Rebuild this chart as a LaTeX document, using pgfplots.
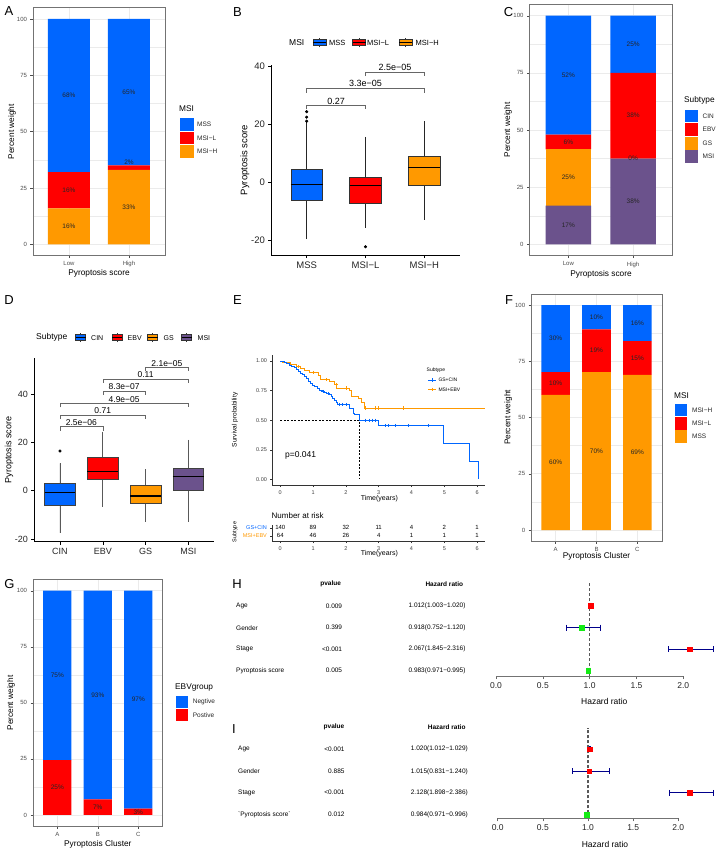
\documentclass[border=0pt]{standalone}
\usepackage{fontspec}
\setmainfont{Liberation Sans}
\usepackage{pgfplots}
\pgfplotsset{compat=1.18}
\usepgfplotslibrary{statistics}
\definecolor{cblue}{RGB}{0,102,255}
\definecolor{cred}{RGB}{255,0,0}
\definecolor{corange}{RGB}{255,153,0}
\definecolor{cpurple}{RGB}{107,82,140}
\definecolor{cgreen}{RGB}{20,235,20}
\definecolor{cdblue}{RGB}{0,0,139}
\definecolor{gridc}{RGB}{235,235,235}
\newcommand{\fs}[1]{\fontsize{#1}{#1}\selectfont}
\tikzset{lab/.style={font=\fs{6.5}, text=black!85, inner sep=0pt}}
\pgfplotsset{
  every axis/.append style={/pgf/number format/assume math mode=true},
  ggbw/.style={scale only axis, anchor=south west, ymin=-5, ymax=105,
    ytick={0,25,50,75,100}, minor ytick={12.5,37.5,62.5,87.5},
    xmajorgrids, ymajorgrids, yminorgrids,
    major grid style={gridc, line width=0.55pt}, minor grid style={gridc, line width=0.3pt},
    axis line style={black!55, line width=0.5pt},
    tick align=outside, major tick length=2.5pt, minor tick length=0pt,
    tick style={black!70, line width=0.4pt}, xtick pos=bottom, ytick pos=left,
    tick label style={font=\fs{6}, text=black!70},
    ybar stacked, bar width=0.7},
  lbl/.style={scale only axis, anchor=south west, hide axis, ymin=-5, ymax=105, clip=false},
  bx/.style={scale only axis, anchor=south west, axis x line*=bottom, axis y line*=left,
    tick align=outside, major tick length=3pt, tick style={black, line width=0.5pt},
    axis line style={black, line width=0.6pt}, clip=false,
    boxplot/draw direction=y,
    boxplot/whisker extend=0,
    boxplot/every median/.style={black, line width=1.2pt}},
  forest/.style={scale only axis, anchor=south west, xmin=0, xmax=2,
    axis x line*=bottom, axis y line=none, ytick=\empty,
    xtick={0,0.5,1,1.5,2}, xticklabels={0.0,0.5,1.0,1.5,2.0},
    tick align=outside, major tick length=3pt, tick style={black!60, line width=0.6pt},
    axis line style={black!55, line width=0.7pt},
    xticklabel style={font=\fs{8.5}, text=black!85}, clip=false},
  pct/.style={draw=none, nodes near coords={\pgfplotspointmeta\%}, point meta=explicit symbolic,
    nodes near coords align={center},
    every node near coord/.append style={font=\fs{6.5}, text=black!85, inner sep=0pt}},
}
\newcommand{\bkey}[4]{\begin{scope}[shift={(#1pt,-#2pt)}]
 \draw[black!80,line width=0.5pt] (0,-4.5pt) -- (0,4.5pt);
 \filldraw[fill=#3, draw=black!80, line width=0.5pt] (-#4pt,-3pt) rectangle (#4pt,3pt);
 \draw[black, line width=0.8pt] (-#4pt,0) -- (#4pt,0);
\end{scope}}
\begin{document}
\begin{tikzpicture}
\path[use as bounding box] (0,0) rectangle (720pt,-854pt);
\fill[white] (0,0) rectangle (720pt,-854pt);

% ---------------- Panel A ----------------
\begin{axis}[ggbw, at={(33pt,-255.6pt)}, width=132pt, height=247.9pt,
  xmin=0.4, xmax=2.6, xtick={1,2}, xticklabels={Low,High}]
\addplot[fill=corange, draw=none] coordinates {(1,16) (2,33)};
\addplot[fill=cred, draw=none] coordinates {(1,16) (2,2)};
\addplot[fill=cblue, draw=none] coordinates {(1,68) (2,65)};
\end{axis}
\begin{axis}[lbl, at={(33pt,-255.6pt)}, width=132pt, height=247.9pt, xmin=0.4, xmax=2.6]
\addplot[pct] table[row sep=\\, meta=l] {x y l\\ 1 8 16\\ 1 24 16\\ 1 66 68\\ 2 16.5 33\\ 2 36.5 2\\ 2 67.5 65\\};
\end{axis}
\node[font=\fs{8.3}] at (99pt,-273.3pt) {Pyroptosis score};
\node[font=\fs{8.3}, rotate=90] at (12pt,-131.7pt) {Percent weight};
\node[font=\fs{8.3}, anchor=west, inner sep=0pt] at (179pt,-109pt) {MSI};
\fill[cblue] (180pt,-118pt) rectangle (194pt,-131pt);
\fill[cred] (180pt,-131.7pt) rectangle (194pt,-144.3pt);
\fill[corange] (180pt,-145pt) rectangle (194pt,-157.5pt);
\node[lab, anchor=west] at (197pt,-124.5pt) {MSS};
\node[lab, anchor=west] at (197pt,-138pt) {MSI−L};
\node[lab, anchor=west] at (197pt,-151.3pt) {MSI−H};

% ---------------- Panel B ----------------
\begin{axis}[bx, at={(271.4pt,-255.1pt)}, width=188.2pt, height=190pt,
  xmin=0.4, xmax=3.6, ymin=-25.3, ymax=40.4,
  xtick={1,2,3}, xticklabels={MSS,MSI−L,MSI−H}, ytick={-20,0,20,40},
  tick label style={font=\fs{9.5}, text=black!85},
  boxplot/box extend=0.54,
  boxplot/every whisker/.style={black!85, line width=0.5pt}]
\addplot[boxplot prepared={draw position=1, lower whisker=-19.8, lower quartile=-6.2,
  median=-1.0, upper quartile=4.3, upper whisker=20.6},
  fill=cblue, draw=black!80, line width=0.5pt, mark=*, mark size=1.3pt,
  mark options={fill=black, draw=black}]
  table[row sep=\\, y index=0] {y\\ 24.3\\ 22.4\\ 21.0\\};
\addplot[boxplot prepared={draw position=2, lower whisker=-15.8, lower quartile=-7.2,
  median=-1.3, upper quartile=1.7, upper whisker=15.6},
  fill=cred, draw=black!80, line width=0.5pt, mark=*, mark size=1.3pt,
  mark options={fill=black, draw=black}]
  table[row sep=\\, y index=0] {y\\ -22.4\\};
\addplot[boxplot prepared={draw position=3, lower whisker=-13.0, lower quartile=-1.0,
  median=5.1, upper quartile=8.9, upper whisker=20.9},
  fill=corange, draw=black!80, line width=0.5pt] coordinates {};
\addplot[black!60, line width=0.5pt] coordinates {(1,25.1) (1,26.5) (2,26.5) (2,25.1)};
\addplot[black!60, line width=0.5pt] coordinates {(1,30.9) (1,32.4) (3,32.4) (3,30.9)};
\addplot[black!60, line width=0.5pt] coordinates {(2,36.6) (2,38.0) (3,38.0) (3,36.6)};
\node[anchor=south, font=\fs{9}, inner sep=1pt] at (axis cs:1.5,26.5) {0.27};
\node[anchor=south, font=\fs{9}, inner sep=1pt] at (axis cs:2,32.4) {3.3e−05};
\node[anchor=south, font=\fs{9}, inner sep=1pt] at (axis cs:2.5,38.0) {2.5e−05};
\end{axis}
\node[font=\fs{9.5}, rotate=90] at (245pt,-160pt) {Pyroptosis score};
\node[font=\fs{8.5}, anchor=west, inner sep=0pt] at (289pt,-42.7pt) {MSI};
\bkey{319.3}{42.7}{cblue}{6.5}
\node[font=\fs{7.5}, anchor=west, inner sep=0pt] at (329pt,-42.7pt) {MSS};
\bkey{359}{42.7}{cred}{6.5}
\node[font=\fs{7.5}, anchor=west, inner sep=0pt] at (367pt,-42.7pt) {MSI−L};
\bkey{405.7}{42.7}{corange}{6.5}
\node[font=\fs{7.5}, anchor=west, inner sep=0pt] at (415.5pt,-42.7pt) {MSI−H};

% ---------------- Panel C ----------------
\begin{axis}[ggbw, at={(529.5pt,-255.7pt)}, width=142.5pt, height=251.4pt,
  xmin=0.4, xmax=2.6, xtick={1,2}, xticklabels={Low,High}]
\addplot[fill=cpurple, draw=none] coordinates {(1,16.9) (2,37.5)};
\addplot[fill=corange, draw=none] coordinates {(1,24.6) (2,0)};
\addplot[fill=cred, draw=none] coordinates {(1,6.5) (2,37.5)};
\addplot[fill=cblue, draw=none] coordinates {(1,52.0) (2,25)};
\end{axis}
\begin{axis}[lbl, at={(529.5pt,-255.7pt)}, width=142.5pt, height=251.4pt, xmin=0.4, xmax=2.6]
\addplot[pct] table[row sep=\\, meta=l] {x y l\\ 1 8.45 17\\ 1 29.2 25\\ 1 44.75 6\\ 1 74 52\\
2 18.75 38\\ 2 37.5 0\\ 2 56.25 38\\ 2 87.5 25\\};
\end{axis}
\node[font=\fs{8.3}] at (601pt,-274pt) {Pyroptosis score};
\node[font=\fs{8.3}, rotate=90] at (508pt,-130pt) {Percent weight};
\node[font=\fs{8.3}, anchor=west, inner sep=0pt] at (684pt,-100.7pt) {Subtype};
\fill[cblue] (685pt,-110pt) rectangle (698.3pt,-122.3pt);
\fill[cred] (685pt,-123pt) rectangle (698.3pt,-136pt);
\fill[corange] (685pt,-136.7pt) rectangle (698.3pt,-149.5pt);
\fill[cpurple] (685pt,-150.2pt) rectangle (698.3pt,-163pt);
\node[lab, anchor=west] at (702.5pt,-116.2pt) {CIN};
\node[lab, anchor=west] at (702.5pt,-129.5pt) {EBV};
\node[lab, anchor=west] at (702.5pt,-143pt) {GS};
\node[lab, anchor=west] at (702.5pt,-156.5pt) {MSI};

% ---------------- Panel D ----------------
\begin{axis}[bx, at={(34.3pt,-541.5pt)}, width=179.7pt, height=183.3pt,
  xmin=0.4, xmax=4.6, ymin=-21, ymax=54.8,
  xtick={1,2,3,4}, xticklabels={CIN,EBV,GS,MSI}, ytick={-20,0,20,40},
  tick label style={font=\fs{9}, text=black!85},
  boxplot/box extend=0.72,
  boxplot/every whisker/.style={black!65, line width=0.6pt}]
\addplot[boxplot prepared={draw position=1, lower whisker=-17.4, lower quartile=-5.9,
  median=-0.7, upper quartile=2.9, upper whisker=11.3},
  fill=cblue, draw=black!75, line width=0.5pt, mark=*, mark size=1.3pt,
  mark options={fill=black, draw=black}]
  table[row sep=\\, y index=0] {y\\ 16.4\\};
\addplot[boxplot prepared={draw position=2, lower whisker=-6.6, lower quartile=4.8,
  median=7.9, upper quartile=13.9, upper whisker=24.4},
  fill=cred, draw=black!75, line width=0.5pt] coordinates {};
\addplot[boxplot prepared={draw position=3, lower whisker=-12.8, lower quartile=-5.0,
  median=-2.2, upper quartile=2.1, upper whisker=8.8},
  fill=corange, draw=black!75, line width=0.5pt] coordinates {};
\addplot[boxplot prepared={draw position=4, lower whisker=-12.8, lower quartile=0.1,
  median=5.8, upper quartile=9.5, upper whisker=21.0},
  fill=cpurple, draw=black!75, line width=0.5pt] coordinates {};
\addplot[black!60, line width=0.5pt] coordinates {(1,24.9) (1,26.5) (2,26.5) (2,24.9)};
\addplot[black!60, line width=0.5pt] coordinates {(1,29.6) (1,31.2) (3,31.2) (3,29.6)};
\addplot[black!60, line width=0.5pt] coordinates {(1,34.5) (1,36.1) (4,36.1) (4,34.5)};
\addplot[black!60, line width=0.5pt] coordinates {(2,39.6) (2,41.2) (3,41.2) (3,39.6)};
\addplot[black!60, line width=0.5pt] coordinates {(2,44.7) (2,46.3) (4,46.3) (4,44.7)};
\addplot[black!60, line width=0.5pt] coordinates {(3,49.4) (3,51.0) (4,51.0) (4,49.4)};
\node[anchor=south, font=\fs{8.5}, inner sep=1pt] at (axis cs:1.5,26.5) {2.5e−06};
\node[anchor=south, font=\fs{8.5}, inner sep=1pt] at (axis cs:2,31.2) {0.71};
\node[anchor=south, font=\fs{8.5}, inner sep=1pt] at (axis cs:2.5,36.1) {4.9e−05};
\node[anchor=south, font=\fs{8.5}, inner sep=1pt] at (axis cs:2.5,41.2) {8.3e−07};
\node[anchor=south, font=\fs{8.5}, inner sep=1pt] at (axis cs:3,46.3) {0.11};
\node[anchor=south, font=\fs{8.5}, inner sep=1pt] at (axis cs:3.5,51.0) {2.1e−05};
\end{axis}
\node[font=\fs{9}, rotate=90] at (9pt,-450pt) {Pyroptosis score};
\node[font=\fs{8.5}, anchor=west, inner sep=0pt] at (36pt,-337.7pt) {Subtype};
\bkey{80.7}{337.7}{cblue}{5}
\node[font=\fs{7}, anchor=west, inner sep=0pt] at (91pt,-337.7pt) {CIN};
\bkey{117.3}{337.7}{cred}{5}
\node[font=\fs{7}, anchor=west, inner sep=0pt] at (127.5pt,-337.7pt) {EBV};
\bkey{152.7}{337.7}{corange}{5}
\node[font=\fs{7}, anchor=west, inner sep=0pt] at (163.5pt,-337.7pt) {GS};
\bkey{186.7}{337.7}{cpurple}{5}
\node[font=\fs{7}, anchor=west, inner sep=0pt] at (197.5pt,-337.7pt) {MSI};

% ---------------- Panel E ----------------
\begin{axis}[scale only axis, anchor=south west, at={(272.4pt,-485pt)}, width=212.9pt, height=129.7pt,
  xmin=-0.24, xmax=6.25, ymin=-0.048, ymax=1.048,
  axis x line*=bottom, axis y line*=left,
  xtick={0,1,2,3,4,5,6}, ytick={0,0.25,0.5,0.75,1},
  yticklabel style={/pgf/number format/fixed, /pgf/number format/fixed zerofill, /pgf/number format/precision=2},
  tick align=outside, major tick length=2pt, tick style={black!80, line width=0.4pt},
  axis line style={black!80, line width=0.5pt},
  tick label style={font=\fs{5.5}, text=black!75}]
\addplot[black, line width=0.5pt, dash pattern=on 2pt off 1.5pt] coordinates {(0,0.5) (2.41,0.5) (2.41,0)};
\addplot[corange, line width=0.9pt, const plot] table[row sep=\\] {
t s\\ 0 1.0\\ 0.08 0.984\\ 0.3 0.969\\ 0.5 0.953\\ 0.62 0.938\\ 0.75 0.922\\ 0.88 0.906\\
1.15 0.875\\ 1.22 0.843\\ 1.5 0.827\\ 1.65 0.800\\ 1.72 0.772\\ 2.1 0.753\\ 2.18 0.702\\
2.38 0.683\\ 2.47 0.646\\ 2.57 0.603\\ 6.25 0.603\\};
\addplot[cblue, line width=0.9pt, const plot] table[row sep=\\] {
t s\\ 0 1.0\\ 0.05 0.993\\ 0.12 0.986\\ 0.2 0.979\\ 0.28 0.964\\ 0.35 0.957\\ 0.42 0.942\\
0.5 0.928\\ 0.55 0.913\\ 0.62 0.898\\ 0.68 0.883\\ 0.75 0.868\\ 0.8 0.853\\ 0.87 0.830\\
0.92 0.807\\ 0.97 0.791\\ 1.05 0.783\\ 1.12 0.767\\ 1.2 0.751\\ 1.28 0.742\\ 1.35 0.733\\
1.42 0.724\\ 1.5 0.714\\ 1.55 0.700\\ 1.6 0.685\\ 1.65 0.670\\ 1.7 0.650\\ 1.75 0.632\\
2.12 0.598\\ 2.22 0.556\\ 2.26 0.545\\ 2.41 0.500\\ 3.0 0.455\\ 4.97 0.300\\ 5.78 0.150\\
6.03 0.0\\};
\addplot[only marks, mark=+, mark size=1.6pt, cblue, line width=0.4pt] table[row sep=\\] {
t s\\ 1.3 0.742\\ 1.45 0.724\\ 1.8 0.632\\ 1.9 0.632\\ 2.0 0.632\\ 2.6 0.5\\ 2.7 0.5\\ 2.8 0.5\\
2.9 0.5\\ 3.2 0.455\\ 3.3 0.455\\ 3.5 0.455\\ 3.9 0.455\\ 4.5 0.455\\};
\addplot[only marks, mark=+, mark size=1.6pt, corange, line width=0.4pt] table[row sep=\\] {
t s\\ 0.55 0.953\\ 1.0 0.906\\ 1.4 0.843\\ 1.7 0.800\\ 2.0 0.772\\ 2.6 0.603\\ 2.9 0.603\\
3.0 0.603\\ 3.75 0.603\\};
\end{axis}
\node[font=\fs{6.5}, rotate=90] at (235pt,-420pt) {Survival probability};
\node[font=\fs{7}] at (379.3pt,-499pt) {Time(years)};
\node[font=\fs{8.5}, anchor=west, inner sep=0pt] at (285pt,-455.7pt) {p=0.041};
\node[font=\fs{5}, anchor=west, inner sep=0pt] at (426.5pt,-370.7pt) {Subtype};
\draw[cblue, line width=0.8pt] (428pt,-380pt) -- (435.5pt,-380pt);
\draw[cblue, line width=0.4pt] (431.7pt,-378.3pt) -- (431.7pt,-381.7pt);
\draw[corange, line width=0.8pt] (428pt,-389.3pt) -- (435.5pt,-389.3pt);
\draw[corange, line width=0.4pt] (431.7pt,-387.6pt) -- (431.7pt,-391pt);
\node[font=\fs{5}, anchor=west, inner sep=0pt] at (438.3pt,-380pt) {GS+CIN};
\node[font=\fs{5}, anchor=west, inner sep=0pt] at (438.3pt,-389.3pt) {MSI+EBV};

% risk table
\begin{axis}[scale only axis, anchor=south west, at={(272.4pt,-541pt)}, width=212.9pt, height=15.6pt,
  xmin=-0.24, xmax=6.25, ymin=0.35, ymax=2.3,
  axis x line*=bottom, axis y line*=left,
  xtick={0,1,2,3,4,5,6}, ytick={1,2},
  yticklabels={\textcolor{corange}{MSI+EBV},\textcolor{cblue}{GS+CIN}},
  tick align=outside, major tick length=2pt, tick style={black!80, line width=0.4pt},
  axis line style={black!80, line width=0.5pt},
  xticklabel style={font=\fs{5.5}, text=black!75},
  yticklabel style={font=\fs{5.5}}, clip=false]
\addplot[draw=none, nodes near coords, point meta=explicit symbolic,
  nodes near coords align={center},
  every node near coord/.append style={font=\fs{6}, inner sep=0pt}]
  table[row sep=\\, meta=n] {
x y n\\ 0 2 140\\ 1 2 89\\ 2 2 32\\ 3 2 11\\ 4 2 4\\ 5 2 2\\ 6 2 1\\
0 1 64\\ 1 1 46\\ 2 1 26\\ 3 1 4\\ 4 1 1\\ 5 1 1\\ 6 1 1\\};
\end{axis}
\node[font=\fs{8}, anchor=west, inner sep=0pt] at (271.5pt,-516pt) {Number at risk};
\node[font=\fs{5.5}, rotate=90] at (235pt,-532pt) {Subtype};
\node[font=\fs{7}] at (379.3pt,-554pt) {Time(years)};

% ---------------- Panel F ----------------
\begin{axis}[ggbw, at={(531.2pt,-541.25pt)}, width=130.6pt, height=247.5pt,
  xmin=0.4, xmax=3.6, xtick={1,2,3}, xticklabels={A,B,C}]
\addplot[fill=corange, draw=none] coordinates {(1,60.1) (2,70.2) (3,68.9)};
\addplot[fill=cred, draw=none] coordinates {(1,10.1) (2,19.0) (3,15.1)};
\addplot[fill=cblue, draw=none] coordinates {(1,29.8) (2,10.8) (3,16.0)};
\end{axis}
\begin{axis}[lbl, at={(531.2pt,-541.25pt)}, width=130.6pt, height=247.5pt, xmin=0.4, xmax=3.6]
\addplot[pct] table[row sep=\\, meta=l] {x y l\\ 1 30.05 60\\ 1 65.15 10\\ 1 85.1 30\\
2 35.1 70\\ 2 79.7 19\\ 2 94.6 10\\ 3 34.45 69\\ 3 76.45 15\\ 3 92 16\\};
\end{axis}
\node[font=\fs{8.3}] at (596.5pt,-556.7pt) {Pyroptosis Cluster};
\node[font=\fs{8.3}, rotate=90] at (508.3pt,-417.5pt) {Percent weight};
\node[font=\fs{8.3}, anchor=west, inner sep=0pt] at (674pt,-396pt) {MSI};
\fill[cblue] (675pt,-403.7pt) rectangle (687.3pt,-416.2pt);
\fill[cred] (675pt,-417pt) rectangle (687.3pt,-429.5pt);
\fill[corange] (675pt,-430.3pt) rectangle (687.3pt,-443pt);
\node[lab, anchor=west] at (692pt,-410pt) {MSI−H};
\node[lab, anchor=west] at (692pt,-423.3pt) {MSI−L};
\node[lab, anchor=west] at (692pt,-436.6pt) {MSS};

% ---------------- Panel G ----------------
\begin{axis}[ggbw, at={(33pt,-826.2pt)}, width=129.6pt, height=246.7pt,
  xmin=0.4, xmax=3.6, xtick={1,2,3}, xticklabels={A,B,C}]
\addplot[fill=cred, draw=none] coordinates {(1,24.5) (2,7.0) (3,2.8)};
\addplot[fill=cblue, draw=none] coordinates {(1,75.5) (2,93.0) (3,97.2)};
\end{axis}
\begin{axis}[lbl, at={(33pt,-826.2pt)}, width=129.6pt, height=246.7pt, xmin=0.4, xmax=3.6]
\addplot[pct] table[row sep=\\, meta=l] {x y l\\ 1 12.25 25\\ 1 62.25 75\\ 2 3.5 7\\ 2 53.5 93\\
3 1.4 3\\ 3 51.4 97\\};
\end{axis}
\node[font=\fs{8.3}] at (97.8pt,-844pt) {Pyroptosis Cluster};
\node[font=\fs{8.3}, rotate=90] at (11pt,-702.9pt) {Percent weight};
\node[font=\fs{8.3}, anchor=west, inner sep=0pt] at (175pt,-687.3pt) {EBVgroup};
\fill[cblue] (175.7pt,-695.7pt) rectangle (188.3pt,-708pt);
\fill[cred] (175.7pt,-708.8pt) rectangle (188.3pt,-721pt);
\node[lab, anchor=west] at (192.7pt,-702pt) {Negtive};
\node[lab, anchor=west] at (192.7pt,-715pt) {Postive};

% ---------------- Panel H ----------------
\begin{axis}[forest, at={(496pt,-676pt)}, width=187.3pt, height=93.1pt, ymin=0.754, ymax=5.07]
\addplot[black!65, line width=1.1pt, dash pattern=on 3pt off 2pt] coordinates {(1,0.754) (1,5.07)};
\addplot[cdblue, line width=0.8pt, mark=|, mark size=3pt] coordinates {(1.003,4) (1.020,4)};
\addplot[cdblue, line width=0.8pt, mark=|, mark size=3pt] coordinates {(0.752,3) (1.120,3)};
\addplot[cdblue, line width=0.8pt, mark=|, mark size=3pt] coordinates {(1.845,2) (2.316,2)};
\addplot[cdblue, line width=0.8pt, mark=|, mark size=3pt] coordinates {(0.971,1) (0.995,1)};
\addplot[only marks, mark=square*, mark size=2.3pt, cred] coordinates {(1.012,4) (2.067,2)};
\addplot[only marks, mark=square*, mark size=2.3pt, cgreen] coordinates {(0.918,3) (0.983,1)};
\end{axis}
\node[font=\fs{8.5}] at (604.3pt,-701pt) {Hazard ratio};
\node[font=\bfseries\fs{6.5}] at (330.7pt,-584pt) {pvalue};
\node[font=\bfseries\fs{6.5}] at (444.3pt,-584pt) {Hazard ratio};
\foreach \rl/\p/\hr/\y in {Age/0.009/1.012(1.003−1.020)/606, Gender/0.399/0.918(0.752−1.120)/627.7,
  Stage/<0.001/2.067(1.845−2.316)/649.3, Pyroptosis score/0.005/0.983(0.971−0.995)/670.7} {
  \node[font=\fs{6.5}, anchor=west, inner sep=0pt] at (236pt,-\y pt) {\rl};
  \node[font=\fs{6.5}, anchor=east, inner sep=0pt] at (342.3pt,-\y pt) {\p};
  \node[font=\fs{6.5}, anchor=east, inner sep=0pt] at (465.7pt,-\y pt) {\hr};
}

% ---------------- Panel I ----------------
\begin{axis}[forest, at={(497.7pt,-818.3pt)}, width=180.6pt, height=90.3pt, ymin=0.825, ymax=4.98]
\addplot[black!65, line width=1.1pt, dash pattern=on 3pt off 2pt] coordinates {(1,0.825) (1,4.98)};
\addplot[cdblue, line width=0.8pt, mark=|, mark size=3pt] coordinates {(1.012,4) (1.029,4)};
\addplot[cdblue, line width=0.8pt, mark=|, mark size=3pt] coordinates {(0.831,3) (1.240,3)};
\addplot[cdblue, line width=0.8pt, mark=|, mark size=3pt] coordinates {(1.898,2) (2.386,2)};
\addplot[cdblue, line width=0.8pt, mark=|, mark size=3pt] coordinates {(0.971,1) (0.996,1)};
\addplot[only marks, mark=square*, mark size=2.3pt, cred] coordinates {(1.020,4) (1.015,3) (2.128,2)};
\addplot[only marks, mark=square*, mark size=2.3pt, cgreen] coordinates {(0.984,1)};
\end{axis}
\node[font=\fs{8.5}] at (605pt,-844.3pt) {Hazard ratio};
\node[font=\bfseries\fs{6.5}] at (334pt,-727.3pt) {pvalue};
\node[font=\bfseries\fs{6.5}] at (446.7pt,-727.3pt) {Hazard ratio};
\foreach \rl/\p/\hr/\y in {Age/<0.001/1.020(1.012−1.029)/749.3, Gender/0.885/1.015(0.831−1.240)/771.5,
  Stage/<0.001/2.128(1.898−2.386)/792.5,
  \textasciigrave{}Pyroptosis score\textasciigrave/0.012/0.984(0.971−0.996)/814.5} {
  \node[font=\fs{6.5}, anchor=west, inner sep=0pt] at (238pt,-\y pt) {\rl};
  \node[font=\fs{6.5}, anchor=east, inner sep=0pt] at (344.7pt,-\y pt) {\p};
  \node[font=\fs{6.5}, anchor=east, inner sep=0pt] at (468pt,-\y pt) {\hr};
}

% panel letters
\foreach \l/\x/\y in {A/9/11, B/237.5/12, C/508.5/12, D/9/300, E/237.5/300, F/509/300, G/9.5/584, H/237/584, I/234/729}
  \node[font=\fs{13}] at (\x pt,-\y pt) {\l};
\end{tikzpicture}
\end{document}
